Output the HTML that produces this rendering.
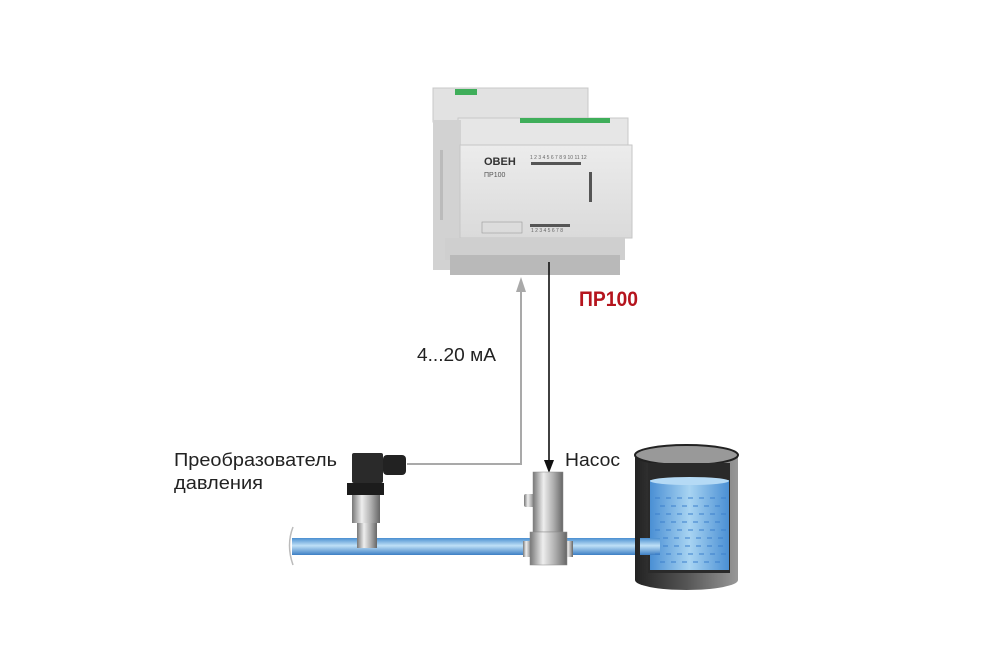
<!DOCTYPE html>
<html><head><meta charset="utf-8"><style>
html,body{margin:0;padding:0;background:#fff;}
svg{display:block;}
text{font-family:"Liberation Sans",sans-serif;}
</style></head><body>
<svg width="1001" height="651" viewBox="0 0 1001 651" xmlns="http://www.w3.org/2000/svg">
<defs>
<linearGradient id="pipe" x1="0" y1="0" x2="0" y2="1">
<stop offset="0" stop-color="#4a8fd0"/><stop offset="0.45" stop-color="#bfe0f7"/><stop offset="1" stop-color="#3d7fc4"/></linearGradient>
<linearGradient id="steel" x1="0" y1="0" x2="1" y2="0">
<stop offset="0" stop-color="#777"/><stop offset="0.35" stop-color="#eee"/><stop offset="0.7" stop-color="#aaa"/><stop offset="1" stop-color="#666"/></linearGradient>
<linearGradient id="tank" x1="0" y1="0" x2="1" y2="0">
<stop offset="0" stop-color="#222"/><stop offset="0.5" stop-color="#555"/><stop offset="1" stop-color="#999"/></linearGradient>
<linearGradient id="water" x1="0" y1="0" x2="1" y2="0">
<stop offset="0" stop-color="#4a8fd4"/><stop offset="0.5" stop-color="#a8d4f2"/><stop offset="1" stop-color="#4a8fd4"/></linearGradient>
<linearGradient id="dev" x1="0" y1="0" x2="0" y2="1">
<stop offset="0" stop-color="#ececec"/><stop offset="1" stop-color="#dadada"/></linearGradient>
</defs>

<!-- Device -->
<rect x="433" y="88" width="155" height="34" fill="#e2e2e2" stroke="#c8c8c8"/>
<rect x="455" y="89" width="22" height="6" fill="#3fae5a"/>
<rect x="458" y="118" width="170" height="30" fill="#e6e6e6" stroke="#c8c8c8"/>
<rect x="520" y="118" width="90" height="5" fill="#3fae5a"/>
<rect x="433" y="120" width="28" height="150" fill="#d2d2d2"/>
<rect x="440" y="150" width="3" height="70" fill="#bbb"/>
<rect x="460" y="145" width="172" height="93" fill="url(#dev)" stroke="#c6c6c6"/>
<text x="484" y="165" font-size="11" font-weight="bold" fill="#333">OBEH</text>
<text x="484" y="177" font-size="7" fill="#555">ПР100</text>
<g fill="#555"><rect x="531" y="162" width="50" height="3"/><rect x="530" y="224" width="40" height="3"/><rect x="589" y="172" width="3" height="30"/></g>
<text x="530" y="159" font-size="5" fill="#666">1 2 3 4 5 6 7 8 9 10 11 12</text>
<text x="531" y="232" font-size="5" fill="#666">1 2 3 4 5 6 7 8</text>
<rect x="482" y="222" width="40" height="11" fill="none" stroke="#999" stroke-width="0.6"/>
<rect x="445" y="238" width="180" height="22" fill="#cfcfcf"/>
<rect x="450" y="255" width="170" height="20" fill="#b9b9b9"/>

<!-- connectors -->
<polyline points="407,464 521,464 521,284" fill="none" stroke="#a9a9a9" stroke-width="2"/>
<polygon points="516,292 526,292 521,277" fill="#a9a9a9"/>
<line x1="549" y1="262" x2="549" y2="462" stroke="#111" stroke-width="1.6"/>
<polygon points="544,460 554,460 549,473" fill="#111"/>

<text x="579" y="306" font-size="21" font-weight="bold" fill="#b5141d" textLength="59" lengthAdjust="spacingAndGlyphs">ПР100</text>
<text x="417" y="361" font-size="18" fill="#222" textLength="79" lengthAdjust="spacingAndGlyphs">4...20 мА</text>
<text x="565" y="466" font-size="18" fill="#222" textLength="55" lengthAdjust="spacingAndGlyphs">Насос</text>
<text x="174" y="466" font-size="18" fill="#222" textLength="163" lengthAdjust="spacingAndGlyphs">Преобразователь</text>
<text x="174" y="489" font-size="18" fill="#222" textLength="89" lengthAdjust="spacingAndGlyphs">давления</text>

<!-- pipe -->
<path d="M293,527 Q286,545 293,565" fill="none" stroke="#bbb" stroke-width="1.5"/>
<rect x="292" y="538" width="368" height="17" fill="url(#pipe)"/>

<!-- sensor -->
<rect x="357" y="523" width="20" height="25" fill="url(#steel)"/>
<rect x="352" y="495" width="28" height="28" fill="url(#steel)"/>
<rect x="347" y="483" width="37" height="12" fill="#1c1c1c"/>
<rect x="352" y="453" width="31" height="30" rx="2" fill="#2a2a2a"/>
<rect x="383" y="455" width="23" height="20" rx="4" fill="#222"/>

<!-- pump -->
<rect x="524" y="494" width="11" height="13" rx="2" fill="url(#steel)"/>
<rect x="533" y="472" width="30" height="60" fill="url(#steel)" stroke="#888" stroke-width="0.5"/>
<rect x="523" y="541" width="9" height="16" fill="url(#steel)"/>
<rect x="565" y="541" width="8" height="16" fill="url(#steel)"/>
<rect x="530" y="532" width="37" height="33" fill="url(#steel)" stroke="#888" stroke-width="0.5"/>

<!-- tank -->
<path d="M635,455 L635,580 A51.5,10 0 0 0 738,580 L738,455 Z" fill="url(#tank)"/>
<ellipse cx="686.5" cy="455" rx="51.5" ry="10" fill="#999" stroke="#222" stroke-width="2"/>
<rect x="648" y="463" width="82" height="110" fill="#2a2a2a"/>
<rect x="650" y="480" width="79" height="90" fill="url(#water)"/>
<ellipse cx="689.5" cy="481" rx="39.5" ry="4" fill="#b5daf5"/>
<rect x="640" y="538" width="20" height="17" fill="url(#pipe)"/>
<g stroke="#3b7fcc" stroke-width="1" stroke-dasharray="5 6">
<line x1="655" y1="498" x2="726" y2="498"/><line x1="660" y1="506" x2="726" y2="506"/>
<line x1="655" y1="514" x2="726" y2="514"/><line x1="660" y1="522" x2="726" y2="522"/>
<line x1="655" y1="530" x2="726" y2="530"/><line x1="663" y1="538" x2="726" y2="538"/>
<line x1="663" y1="546" x2="726" y2="546"/><line x1="655" y1="554" x2="726" y2="554"/>
<line x1="660" y1="562" x2="726" y2="562"/></g>
</svg>
</body></html>
